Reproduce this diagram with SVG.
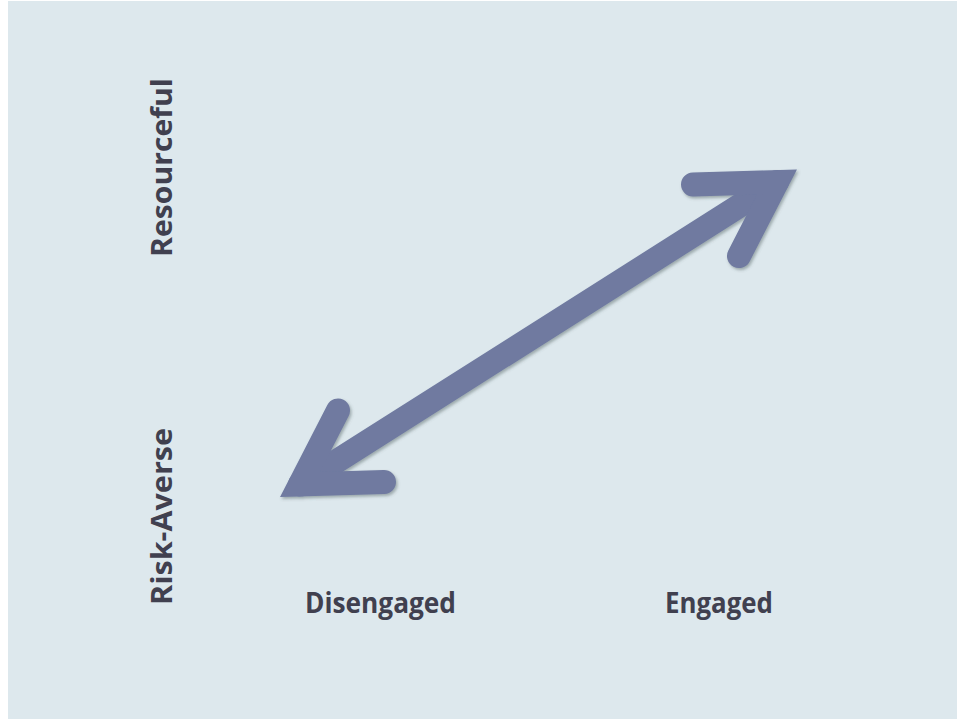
<svg xmlns="http://www.w3.org/2000/svg" width="957" height="719" viewBox="0 0 957 719">
<defs>
<style>
.lbl{font-family:"Open Sans","Liberation Sans",sans-serif;font-weight:bold;font-size:28px;fill:#40404f;text-anchor:middle}
.arr{fill:none;stroke:#6f7aa0;stroke-width:24;stroke-linecap:round;stroke-linejoin:miter;stroke-miterlimit:10}
</style>
<filter id="sh" x="-10%" y="-10%" width="120%" height="120%">
<feDropShadow dx="1.5" dy="2" stdDeviation="1.5" flood-color="#4a5a5a" flood-opacity="0.45"/>
</filter>
</defs>
<rect x="0" y="0" width="957" height="719" fill="#ffffff"/>
<rect x="8" y="1" width="949" height="718" fill="#dde8ed"/>
<g id="connectors" filter="url(#sh)">
<path class="arr" d="M300,484.5 L777,182"/>
<path class="arr" d="M693,184.5 L777,182 L739,256"/>
<path class="arr" d="M384,482 L300,484.5 L338,410.5"/>
</g>
<g id="resourceful"><text class="lbl" transform="translate(172,167.5) rotate(-90)" textLength="179" lengthAdjust="spacingAndGlyphs">Resourceful</text></g>
<g id="risk-averse"><text class="lbl" transform="translate(172,516.5) rotate(-90)" textLength="177" lengthAdjust="spacingAndGlyphs">Risk-Averse</text></g>
<g id="disengaged"><text class="lbl" x="380.5" y="613" textLength="151" lengthAdjust="spacingAndGlyphs">Disengaged</text></g>
<g id="engaged"><text class="lbl" x="719" y="613" textLength="108" lengthAdjust="spacingAndGlyphs">Engaged</text></g>
</svg>
